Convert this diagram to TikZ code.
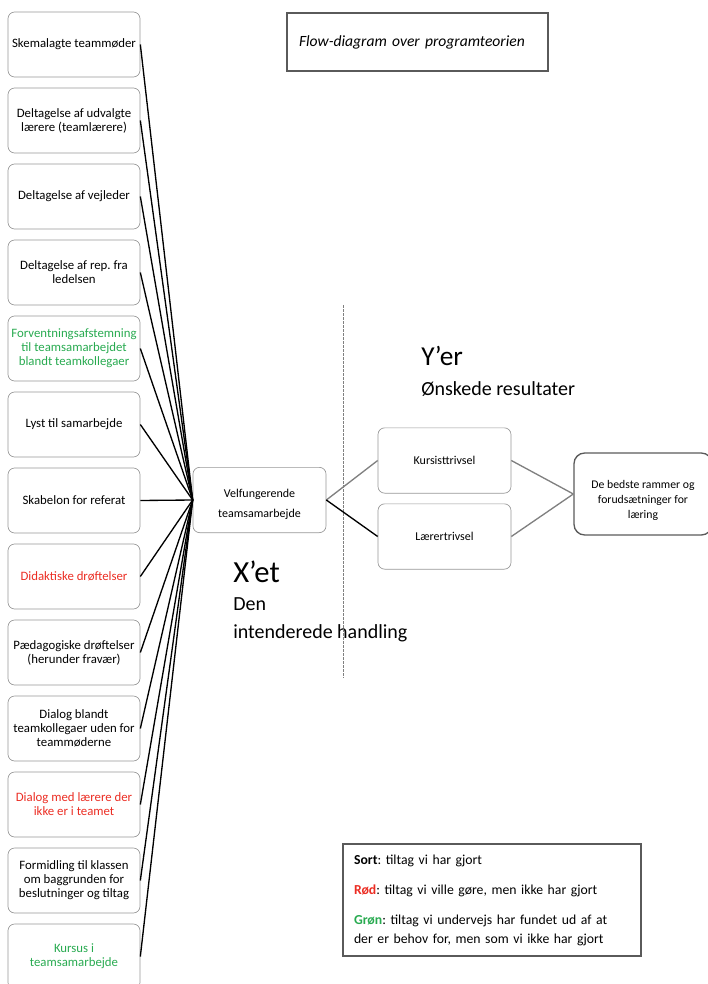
\documentclass[tikz,border=0pt]{standalone}
\usepackage{fontspec}
\setmainfont{Carlito}
\frenchspacing
\definecolor{boxgray}{RGB}{150,150,150}
\definecolor{darkline}{RGB}{90,90,90}
\definecolor{txtgreen}{RGB}{40,170,80}
\definecolor{txtred}{RGB}{235,45,35}
\tikzset{
  leftbox/.style={rectangle, rounded corners=5pt, draw=boxgray, line width=0.5pt,
    minimum width=99pt, minimum height=48.75pt, inner sep=2pt,
    align=center, font=\fontsize{9.6}{10.5}\selectfont},
  midbox/.style={rectangle, rounded corners=5pt, draw=boxgray, line width=0.5pt,
    minimum width=99.75pt, minimum height=49pt, inner sep=2pt,
    align=center, font=\fontsize{9}{15}\selectfont},
  endbox/.style={rectangle, rounded corners=8pt, draw=darkline, line width=1pt,
    minimum width=103.5pt, minimum height=61.5pt, inner sep=2pt,
    align=center, font=\fontsize{8.8}{11.25}\selectfont},
  framebox/.style={rectangle, draw=darkline, line width=0.8pt, align=left},
  bigtext/.style={anchor=base west, inner sep=0pt, font=\fontsize{20.5}{24}\selectfont},
  subtext/.style={anchor=base west, inner sep=0pt, font=\fontsize{15}{18}\selectfont},
  edge/.style={line width=1pt, black},
  grayedge/.style={line width=1pt, gray}
}
\begin{document}
\begin{tikzpicture}[x=0.75pt, y=-0.75pt]
    \useasboundingbox (0,0) rectangle (707,984);
    % Title
    \node (title) [framebox, minimum width=195.75pt, minimum height=43.5pt, text width=177.75pt, inner xsep=9pt, font=\fontsize{11.7}{13}\selectfont] at (417.5,42) {\textit{Flow-diagram over programteorien}};

    % Nodes (left column)
    \node (skema) [leftbox] at (74,44.5) {Skemalagte teammøder};
    \node (udvalgte) [leftbox] at (74,120.5) {Deltagelse af udvalgte\\lærere (teamlærere)};
    \node (vejleder) [leftbox] at (74,196.5) {Deltagelse af vejleder};
    \node (ledelse) [leftbox] at (74,272.5) {Deltagelse af rep. fra\\ledelsen};
    \node (forvent) [leftbox, text=txtgreen] at (74,348.5) {Forventningsafstemning\\til teamsamarbejdet\\blandt teamkollegaer};
    \node (lyst) [leftbox] at (74,424.5) {Lyst til samarbejde};
    \node (skabelon) [leftbox] at (74,500.5) {Skabelon for referat};
    \node (didaktik) [leftbox, text=txtred] at (74,576.5) {Didaktiske drøftelser};
    \node (paedagogik) [leftbox] at (74,652.5) {Pædagogiske drøftelser\\(herunder fravær)};
    \node (dialogteam) [leftbox] at (74,728.5) {Dialog blandt\\teamkollegaer uden for\\teammøderne};
    \node (dialoglaerer) [leftbox, text=txtred] at (74,804.5) {Dialog med lærere der\\ikke er i teamet};
    \node (formidling) [leftbox] at (74,880.5) {Formidling til klassen\\om baggrunden for\\beslutninger og tiltag};
    \node (kursus) [leftbox, text=txtgreen] at (74,956.5) {Kursus i\\teamsamarbejde};

    % Nodes (middle and right)
    \node (vel) [midbox] at (259.5,500) {\rule{0pt}{13pt}Velfungerende\\teamsamarbejde};
    \node (kursist) [midbox] at (444.5,460.5) {Kursisttrivsel};
    \node (laerer) [midbox] at (444.5,536.5) {Lærertrivsel};
    \node (rammer) [endbox] at (643,494) {\rule{0pt}{16pt}De bedste rammer og\\forudsætninger for\\læring};

    % Headings
    \node (yer) [bigtext] at (421,365) {Y’er};
    \node (yersub) [subtext] at (421,395) {Ønskede resultater};
    \node (xet) [bigtext, font=\fontsize{23}{26}\selectfont] at (233,582) {X’et};
    \node (xetsub1) [subtext] at (233,610) {Den};
    \node (xetsub2) [subtext] at (233,638) {intenderede handling};

    % Divider
    \coordinate (dtop) at (343,305);
    \coordinate (dbot) at (343,678);
    \draw[gray, line width=0.6pt, dash pattern=on 2pt off 1pt] (dtop) -- (dbot);

    % Edges
    \draw[edge] (skema.east) -- (vel.west);
    \draw[edge] (udvalgte.east) -- (vel.west);
    \draw[edge] (vejleder.east) -- (vel.west);
    \draw[edge] (ledelse.east) -- (vel.west);
    \draw[edge] (forvent.east) -- (vel.west);
    \draw[edge] (lyst.east) -- (vel.west);
    \draw[edge] (skabelon.east) -- (vel.west);
    \draw[edge] (didaktik.east) -- (vel.west);
    \draw[edge] (paedagogik.east) -- (vel.west);
    \draw[edge] (dialogteam.east) -- (vel.west);
    \draw[edge] (dialoglaerer.east) -- (vel.west);
    \draw[edge] (formidling.east) -- (vel.west);
    \draw[edge] (kursus.east) -- (vel.west);
    \draw[grayedge] (vel.east) -- (kursist.west);
    \draw[edge] (vel.east) -- (laerer.west);
    \draw[grayedge] (kursist.east) -- (rammer.west);
    \draw[grayedge] (laerer.east) -- (rammer.west);

    % Legend
    \node (legend) [framebox, minimum width=223.5pt, minimum height=84pt, text width=207pt, inner xsep=8.25pt, font=\fontsize{10.3}{14.25}\selectfont] at (492,900)
      {\textbf{Sort}: tiltag vi har gjort\\[8.25pt]
       \textcolor{txtred}{\textbf{Rød}}: tiltag vi ville gøre, men ikke har gjort\\[8.25pt]
       \textcolor{txtgreen}{\textbf{Grøn}}: tiltag vi undervejs har fundet ud af at\\der er behov for, men som vi ikke har gjort};
\end{tikzpicture}
\end{document}
